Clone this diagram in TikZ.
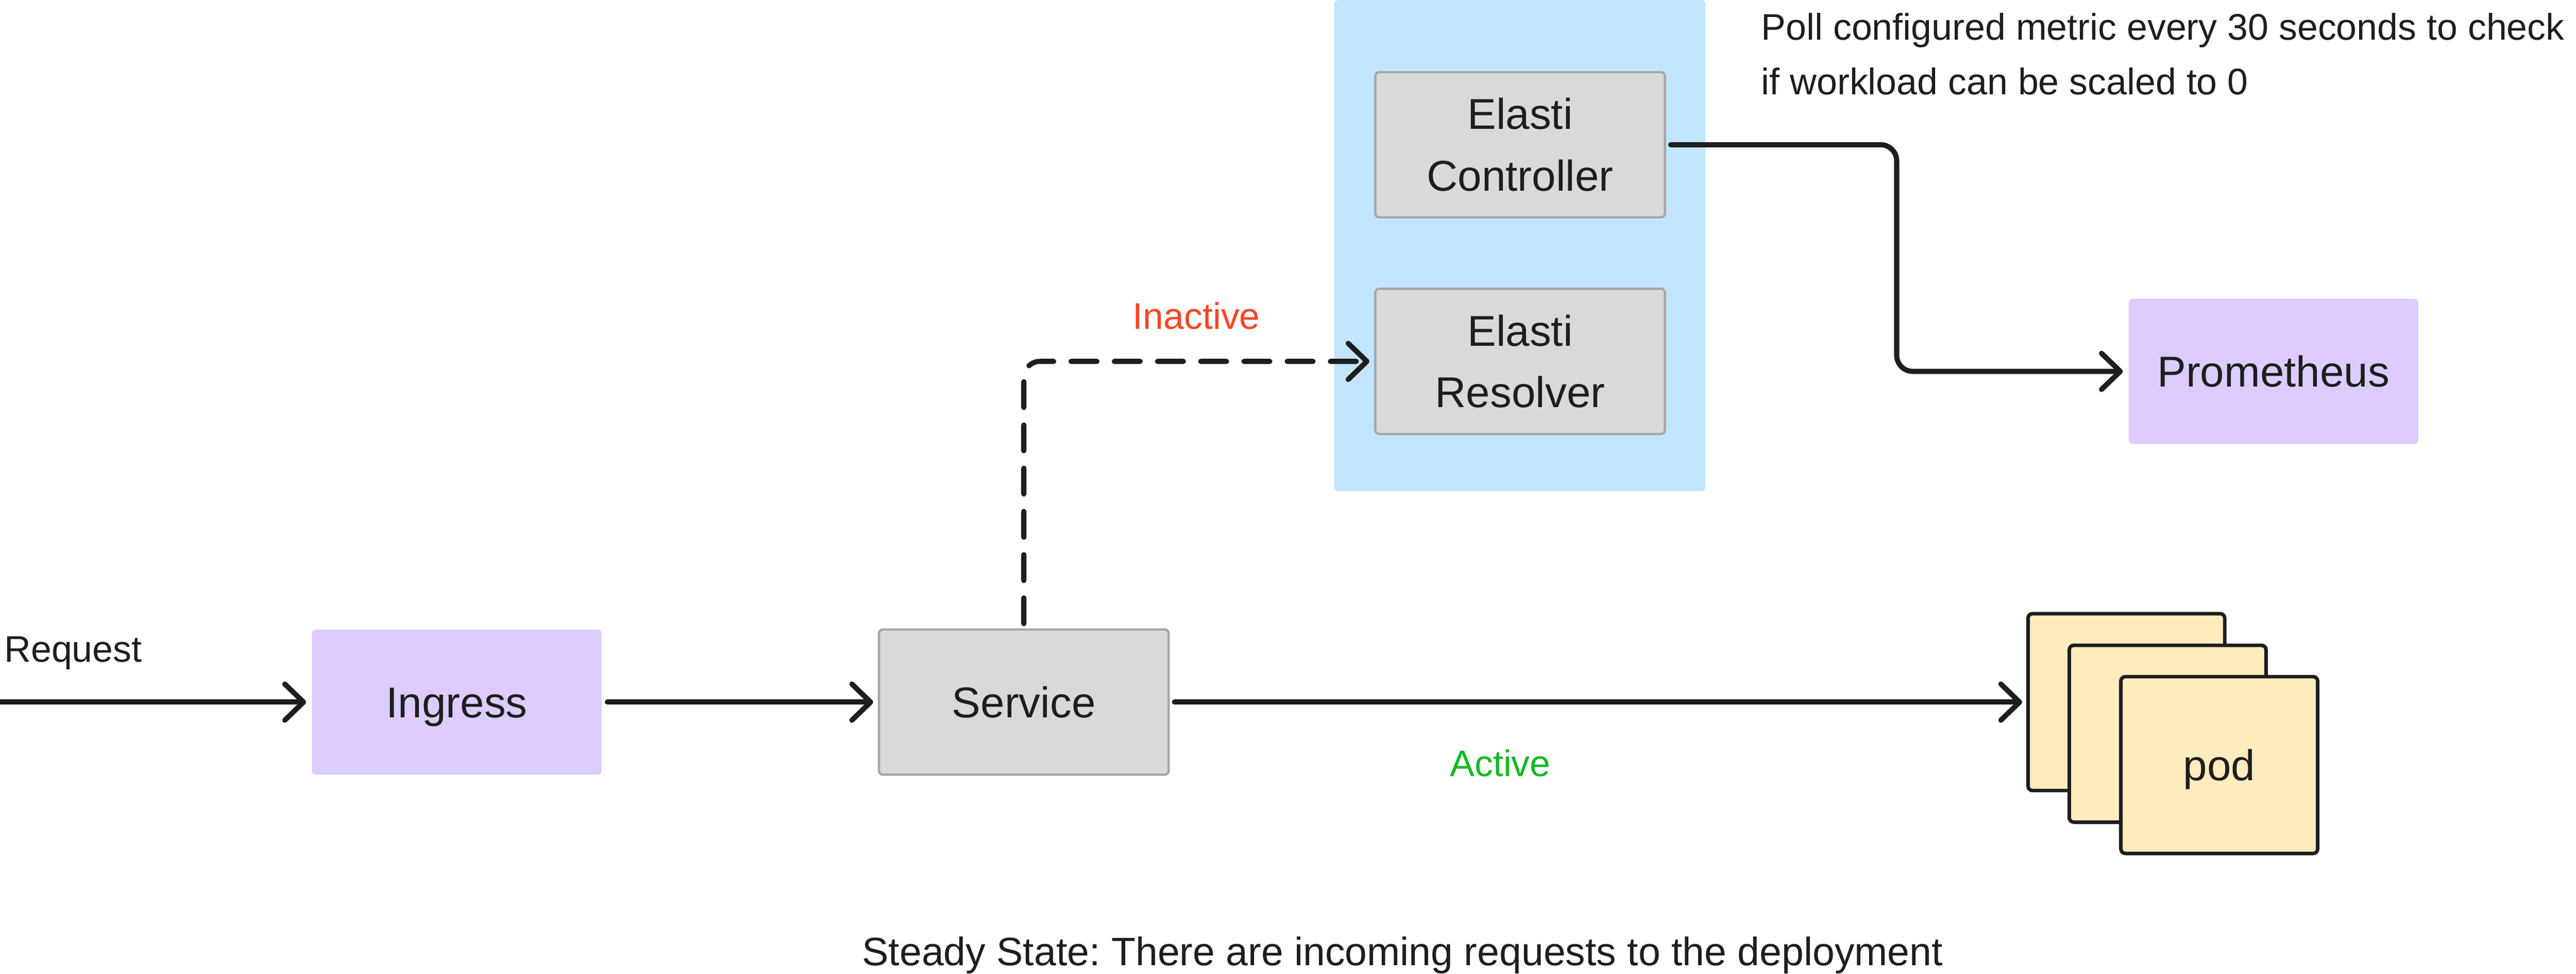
\documentclass[tikz,border=0pt]{standalone}
\usepackage{fontspec}
\setmainfont{Liberation Sans}
\usetikzlibrary{arrows.meta}
\frenchspacing

\definecolor{ink}{HTML}{1E1E1E}
\definecolor{paleblue}{HTML}{C2E5FF}
\definecolor{boxgray}{HTML}{D9D9D9}
\definecolor{edgegray}{HTML}{A6A6A6}
\definecolor{lilac}{HTML}{DCCCFF}
\definecolor{cream}{HTML}{FFECBD}
\definecolor{inactred}{HTML}{F24822}
\definecolor{actgreen}{HTML}{14B824}

\newcommand{\boxfont}{\fontsize{19}{27.2}\selectfont}
\newcommand{\notefont}{\fontsize{16.3}{24}\selectfont}
\newcommand{\capfont}{\fontsize{17.5}{24}\selectfont}

\begin{document}
\begin{tikzpicture}[
  container/.style={fill=paleblue, rounded corners=0.06cm, minimum width=5.755cm, minimum height=7.61cm, inner sep=0pt},
  graybox/.style={draw=edgegray, line width=0.035cm, fill=boxgray, rounded corners=0.06cm, minimum width=4.49cm, minimum height=2.25cm, inner sep=0pt, outer sep=0.09cm, align=center, font=\boxfont, text=ink},
  lilacbox/.style={fill=lilac, rounded corners=0.06cm, minimum width=4.49cm, minimum height=2.25cm, inner sep=0pt, outer sep=0.09cm, font=\boxfont, text=ink},
  podbox/.style={draw=ink, line width=0.055cm, fill=cream, rounded corners=0.07cm, minimum width=3.05cm, minimum height=2.74cm, inner sep=0pt, outer sep=0.09cm, font=\boxfont, text=ink},
  oneline/.style={text height=13.7pt, text depth=0pt},
  note/.style={inner sep=0pt, font=\notefont, text=ink},
  flow/.style={draw=ink, line width=0.08cm, line cap=round, -{Straight Barb[length=0.29cm, width=0.56cm, round]}},
  dashflow/.style={flow, dash pattern=on 0.4cm off 0.27cm, rounded corners=0.25cm}
]
\useasboundingbox (0,0) rectangle (39.93,-15.09);

\node (elasti) [container] at (23.5575,-3.805) {};
\node (ctrl) [graybox] at (23.5625,-2.243) {Elasti\\Controller};
\node (resolver) [graybox] at (23.5625,-5.6) {Elasti\\Resolver};
\node (prom) [lilacbox, oneline] at (35.24,-5.755) {Prometheus};

\node (ingress) [lilacbox, oneline] at (7.08,-10.88) {Ingress};
\node (svc) [graybox, oneline] at (15.87,-10.88) {Service};

\node (pod1) [podbox] at (32.96,-10.88) {};
\node (pod2) [podbox] at (33.60,-11.37) {};
\node (pod3) [podbox, oneline] at (34.40,-11.855) {pod};

\coordinate (in) at (0,-10.88);
\coordinate (bend) at (29.4,0);

\draw[flow] (in) -- (ingress);
\draw[flow] (ingress) -- (svc);
\draw[flow] (svc) -- (pod1);
\draw[dashflow] (svc) |- (resolver);
\draw[flow, rounded corners=0.25cm] (ctrl) -- (ctrl -| bend) |- (prom);

\node (request) [note, anchor=base west] at (0.06,-10.26) {Request};
\node (inactive) [note, text=inactred, anchor=base] at (18.545,-5.10) {Inactive};
\node (active) [note, text=actgreen, anchor=base] at (23.255,-12.03) {Active};
\node (poll) [note, anchor=north west, align=left] at (27.295,-0.197) {Poll configured metric every 30 seconds to check\\if workload can be scaled to 0};
\node (caption) [note, font=\capfont, anchor=base] at (21.74,-14.965) {Steady State: There are incoming requests to the deployment};

\end{tikzpicture}
\end{document}
